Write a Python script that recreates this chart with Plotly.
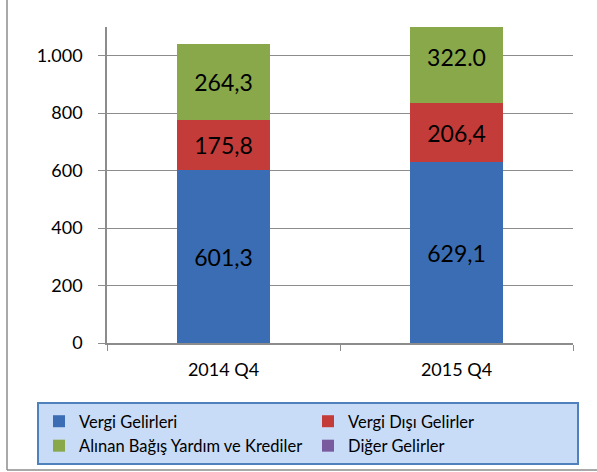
import plotly.graph_objects as go

categories = ["2014 Q4", "2015 Q4"]
vergi_gelirleri = [601.3, 629.1]
vergi_disi = [175.8, 206.4]
bagis_yardim = [264.3, 322.0]
diger = [0.0, 0.0]
label_vergi = ["601,3", "629,1"]
label_disi = ["175,8", "206,4"]
label_bagis = ["264,3", "322.0"]
y_ticks = [0, 200, 400, 600, 800, 1000]
y_tick_labels = ["0", "200", "400", "600", "800", "1.000"]

FONT = "Lato, Open Sans, sans-serif"
W, H = 597, 472
ML, MR, MT, MB = 107, 24, 27, 129
pw, ph = W - ML - MR, H - MT - MB

def px_x(x):
    return (x - ML) / pw

def px_y(y):
    return (H - MB - y) / ph

fig = go.Figure()
series = [
    ("Vergi Gelirleri", vergi_gelirleri, label_vergi, "#3a6db3"),
    ("Vergi Dışı Gelirler", vergi_disi, label_disi, "#c43c39"),
    ("Alınan Bağış Yardım ve Krediler", bagis_yardim, label_bagis, "#88a84a"),
    ("Diğer Gelirler", diger, None, "#7a5a9e"),
]
for name, vals, labels, color in series:
    fig.add_trace(go.Bar(
        x=categories, y=vals, name=name,
        marker=dict(color=color, line=dict(width=0)),
        text=labels, textposition="inside" if labels else "none",
        insidetextanchor="middle", textangle=0,
        textfont=dict(family=FONT, size=23, color="black"),
        width=0.40, hoverinfo="skip",
    ))

fig.update_layout(
    width=W, height=H,
    margin=dict(l=ML, r=MR, t=MT, b=MB, autoexpand=False),
    barmode="stack",
    paper_bgcolor="white", plot_bgcolor="white",
    font=dict(family=FONT, size=18, color="black"),
    showlegend=True,
    legend=dict(
        orientation="h", traceorder="normal",
        x=px_x(37), y=px_y(402), xanchor="left", yanchor="top",
        bgcolor="#c9dcf7", bordercolor="#4f81bd", borderwidth=2,
        font=dict(family=FONT, size=16.5, color="black"),
        entrywidth=224, itemwidth=30,
    ),
    xaxis=dict(
        showline=True, linecolor="#8c8c8c", linewidth=1.5,
        ticks="outside", tickson="boundaries", ticklen=6, tickcolor="#8c8c8c",
        tickfont=dict(family=FONT, size=18), showgrid=False,
        ticklabelstandoff=10, automargin=False,
    ),
    yaxis=dict(
        range=[0, 1100], tickvals=y_ticks, ticktext=y_tick_labels,
        showline=True, linecolor="#8c8c8c", linewidth=1.5,
        ticks="outside", ticklen=7, tickcolor="#8c8c8c",
        showgrid=True, gridcolor="#8c8c8c", gridwidth=1,
        tickfont=dict(family=FONT, size=18), zeroline=False,
        ticklabelstandoff=12, automargin=False,
    ),
    shapes=[
        dict(type="line", xref="paper", yref="paper",
             x0=px_x(7), x1=px_x(7), y0=px_y(470), y1=px_y(-5),
             line=dict(color="#8c8c8c", width=1.5)),
        dict(type="line", xref="paper", yref="paper",
             x0=px_x(7), x1=px_x(605), y0=px_y(470), y1=px_y(470),
             line=dict(color="#8c8c8c", width=1.5)),
    ],
)

fig.write_html("out.html", config={"displayModeBar": False},
               post_script="document.body.style.margin='0';")
